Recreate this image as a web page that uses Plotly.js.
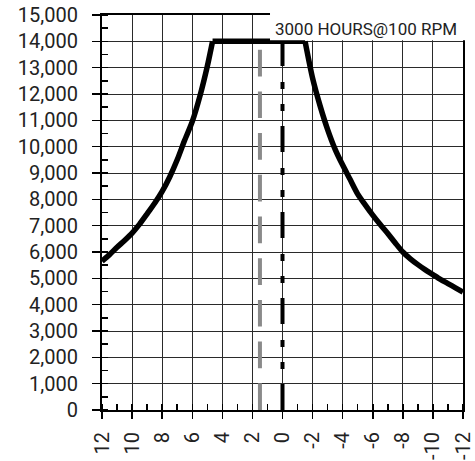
<!DOCTYPE html>
<html>
<head>
<meta charset="utf-8">
<script src="https://cdn.plot.ly/plotly-3.0.1.min.js"></script>
<style>html,body{margin:0;padding:0;background:#fff;}#chart{width:475px;height:461px;}</style>
</head>
<body>
<div id="chart"></div>
<script>
// Capacity curve (x = position, y = capacity)
const curveX = [12, 11.5, 11, 10.5, 10, 9.5, 9, 8.5, 8, 7.5, 7, 6.5, 6, 5.5, 5, 4.65,
                -1.5, -2, -2.5, -3, -3.5, -4, -4.5, -5, -5.5, -6, -6.5, -7, -7.5, -8, -8.5, -9, -9.5, -10, -10.5, -11, -11.5, -12];
const curveY = [5650, 5900, 6180, 6440, 6720, 7060, 7450, 7850, 8300, 8850, 9500, 10250, 10950, 11900, 13050, 14000,
                14000, 12600, 11550, 10650, 9900, 9300, 8750, 8200, 7790, 7400, 7040, 6700, 6340, 6000, 5740, 5520, 5320, 5140, 4960, 4800, 4640, 4480];
// Reference vertical lines
const grayLineX = [1.5, 1.5];
const grayLineY = [0, 14000];
const blackLineX = [0, 0];
const blackLineY = [0, 14000];
// Tick labels
const xTickVals = [12, 10, 8, 6, 4, 2, 0, -2, -4, -6, -8, -10, -12];
const xTickText = ["12", "10", "8", "6", "4", "2", "0", "-2", "-4", "-6", "-8", "-10", "-12"];
const titleText = "3000 HOURS@100 RPM";

// split curve into rising part, plateau and falling part (sharp knees)
const k1 = curveY.indexOf(14000);
const k2 = curveY.lastIndexOf(14000);
const curveLine = {color: '#000', width: 5.5};
const smoothLine = Object.assign({shape: 'spline', smoothing: 0.7}, curveLine);
const traces = [
  {x: grayLineX, y: grayLineY, mode: 'lines', line: {color: '#8a8a8a', width: 4, dash: '26.7px,15px'}, hoverinfo: 'skip'},
  {x: blackLineX, y: blackLineY, mode: 'lines', line: {color: '#000', width: 4, dash: '26px,15px,7px,15px,7px,16px'}, hoverinfo: 'skip'},
  {x: curveX.slice(0, k1 + 1), y: curveY.slice(0, k1 + 1), mode: 'lines', line: smoothLine, hoverinfo: 'skip'},
  {x: curveX.slice(k1, k2 + 1), y: curveY.slice(k1, k2 + 1), mode: 'lines', line: curveLine, hoverinfo: 'skip'},
  {x: curveX.slice(k2), y: curveY.slice(k2), mode: 'lines', line: smoothLine, hoverinfo: 'skip'}
];

const tickFont = {family: 'Roboto, sans-serif', size: 20, color: '#222'};

const layout = {
  width: 475, height: 461,
  margin: {l: 102, r: 12, t: 15, b: 51, pad: 0},
  paper_bgcolor: '#fff', plot_bgcolor: '#fff',
  showlegend: false,
  hovermode: false,
  xaxis: {
    range: [12, -12], autorange: false,
    tickmode: 'array', tickvals: xTickVals, ticktext: xTickText,
    tickangle: -90, tickfont: tickFont,
    ticks: 'outside', ticklen: 7, tickwidth: 1.5, tickcolor: '#000',
    ticklabelstandoff: 5,
    showgrid: true, gridcolor: '#2a2a2a', gridwidth: 1,
    zeroline: false,
    showline: true, linecolor: '#000', linewidth: 2, mirror: true,
    minor: {tickmode: 'linear', tick0: 0, dtick: 1, ticks: 'inside', ticklen: 6, tickwidth: 1.5, tickcolor: '#000', showgrid: false},
    automargin: false, fixedrange: true
  },
  yaxis: {
    range: [0, 15000], autorange: false,
    tickmode: 'linear', tick0: 0, dtick: 1000, tickformat: ',d',
    tickfont: tickFont,
    ticks: 'outside', ticklen: 8, tickwidth: 1.5, tickcolor: '#000',
    ticklabelstandoff: 10,
    showgrid: true, gridcolor: '#2a2a2a', gridwidth: 1,
    zeroline: false,
    showline: true, linecolor: '#000', linewidth: 2, mirror: true,
    minor: {tickmode: 'linear', tick0: 0, dtick: 500, ticks: 'inside', ticklen: 6, tickwidth: 1.5, tickcolor: '#000', showgrid: false},
    automargin: false, fixedrange: true
  },
  shapes: [
    {type: 'rect', xref: 'paper', yref: 'paper', x0: 0.4654, x1: 1.05, y0: 0.9362, y1: 1.06,
     fillcolor: '#fff', line: {width: 0}, layer: 'above'}
  ],
  annotations: [
    {text: titleText, xref: 'paper', yref: 'paper', x: 0.73, y: 0.965, xanchor: 'center', yanchor: 'middle',
     showarrow: false, font: {family: 'Roboto, sans-serif', size: 17, color: '#222'}}
  ]
};

Plotly.newPlot('chart', traces, layout, {displayModeBar: false, staticPlot: true});
</script>
</body>
</html>
